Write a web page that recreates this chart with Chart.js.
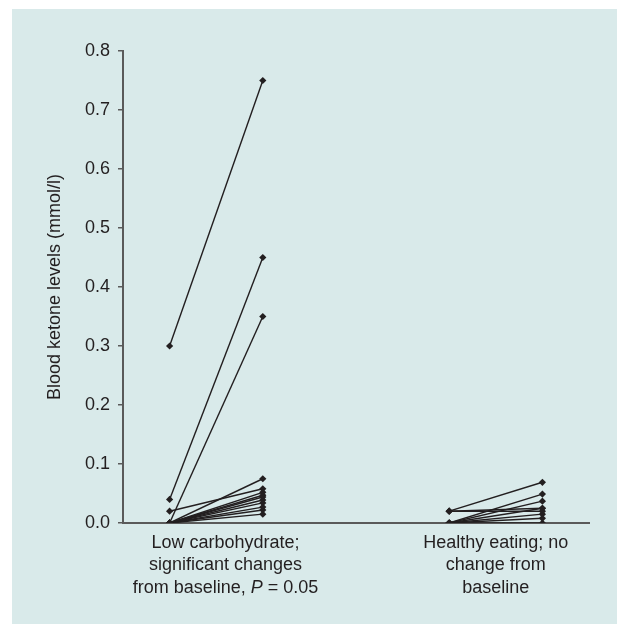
<!DOCTYPE html>
<html>
<head>
<meta charset="utf-8">
<script src="https://cdn.jsdelivr.net/npm/chart.js@4"></script>
<style>
  html, body { margin: 0; padding: 0; background: #fff; }
  #wrap { width: 617px; height: 624px; }
</style>
</head>
<body>
<div id="wrap"><canvas id="chart" width="617" height="624"></canvas></div>
<script>
'use strict';

// Blood ketone levels (mmol/l), baseline -> follow-up, one pair per participant.
var lowCarbBaseline = [0.30, 0.04, 0.00, 0.02, 0.00, 0.00, 0.00, 0.00, 0.00, 0.00, 0.00, 0.00, 0.00];
var lowCarbFollowUp = [0.75, 0.45, 0.35, 0.058, 0.075, 0.052, 0.047, 0.044, 0.039, 0.034, 0.027, 0.022, 0.015];
var healthyBaseline = [0.02, 0.02, 0.02, 0.00, 0.00, 0.00, 0.00, 0.00, 0.00];
var healthyFollowUp = [0.069, 0.02, 0.025, 0.049, 0.037, 0.025, 0.015, 0.008, 0.00];

// Group positions on the hidden x scale (baseline, follow-up) and label centre.
var groupX = [[1, 3], [7, 9]];
var labelX = [2.2, 8];
var groupLabels = [
  ['Low carbohydrate;', 'significant changes', 'from baseline, P = 0.05'],
  ['Healthy eating; no', 'change from', 'baseline']
];

var yTicks = [0, 0.1, 0.2, 0.3, 0.4, 0.5, 0.6, 0.7, 0.8];
var yTitle = 'Blood ketone levels (mmol/l)';

var INK = '#231f20';
var FONT = "'Liberation Sans', Arial, sans-serif";

function pairs(xs, before, after) {
  return before.map(function (b, i) {
    return {
      data: [{ x: xs[0], y: b }, { x: xs[1], y: after[i] }],
      showLine: true,
      borderColor: INK,
      borderWidth: 1.4,
      backgroundColor: INK,
      pointStyle: 'rectRot',
      pointRadius: 3.6,
      pointBorderWidth: 0
    };
  });
}

var datasets = pairs(groupX[0], lowCarbBaseline, lowCarbFollowUp)
  .concat(pairs(groupX[1], healthyBaseline, healthyFollowUp));

//
// Light panel behind the chart, offset a little from the page edge.
//
var panel = {
  id: 'panel',
  beforeDraw: function (chart) {
    var ctx = chart.ctx;
    ctx.save();
    ctx.fillStyle = '#d9eaea';
    ctx.fillRect(12, 9, chart.width - 12, chart.height - 9);
    ctx.restore();
  }
};

//
// Multi-line group labels under the x axis, with an italic P.
//
var categoryLabels = {
  id: 'categoryLabels',
  afterDraw: function (chart) {
    var ctx = chart.ctx
      , x = chart.scales.x
      , top = chart.chartArea.bottom + 20;

    ctx.save();
    ctx.fillStyle = INK;
    ctx.textBaseline = 'middle';
    groupLabels.forEach(function (lines, g) {
      var cx = x.getPixelForValue(labelX[g]);
      lines.forEach(function (line, i) {
        var parts = line.split(/(\bP\b)/).filter(Boolean)
          , widths = []
          , total = 0;
        parts.forEach(function (p) {
          ctx.font = (p === 'P' ? 'italic ' : '') + '18px ' + FONT;
          var w = ctx.measureText(p).width;
          widths.push(w);
          total += w;
        });
        var px = cx - total / 2;
        ctx.textAlign = 'left';
        parts.forEach(function (p, k) {
          ctx.font = (p === 'P' ? 'italic ' : '') + '18px ' + FONT;
          ctx.fillText(p, px, top + i * 22.5);
          px += widths[k];
        });
      });
    });
    ctx.restore();
  }
};

new Chart(document.getElementById('chart'), {
  type: 'scatter',
  data: { datasets: datasets },
  plugins: [panel, categoryLabels],
  options: {
    responsive: false,
    animation: false,
    layout: { padding: { left: 40, top: 51, right: 28, bottom: 0 } },
    plugins: { legend: { display: false }, tooltip: { enabled: false } },
    scales: {
      x: {
        type: 'linear',
        min: 0,
        max: 10,
        grid: { display: false },
        border: { display: true, color: '#5a5a5a', width: 2 },
        ticks: { display: false },
        afterFit: function (scale) { scale.height = 101; }
      },
      y: {
        min: 0,
        max: 0.8,
        afterBuildTicks: function (scale) {
          scale.ticks = yTicks.map(function (v) { return { value: v }; });
        },
        grid: { drawOnChartArea: false, drawTicks: true, tickLength: 5, color: '#5a5a5a', lineWidth: 1.5 },
        border: { display: true, color: '#5a5a5a', width: 2 },
        ticks: {
          color: INK,
          padding: 8,
          font: { family: FONT, size: 18 },
          callback: function (v) { return v.toFixed(1); }
        },
        title: {
          display: true,
          text: yTitle,
          color: INK,
          padding: { top: 4, bottom: 4 },
          font: { family: FONT, size: 18 }
        },
        afterFit: function (scale) { scale.width = 83; }
      }
    }
  }
});
</script>
</body>
</html>
